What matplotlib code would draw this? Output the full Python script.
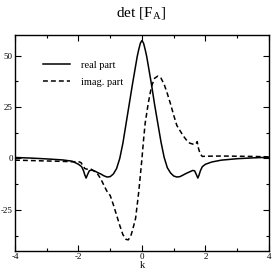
import matplotlib
matplotlib.use("Agg")
import matplotlib.pyplot as plt
from matplotlib.ticker import MultipleLocator

plt.rcParams['font.family'] = ['Liberation Serif', 'DejaVu Serif']
plt.rcParams['mathtext.fontset'] = 'custom'
plt.rcParams['mathtext.rm'] = 'Liberation Serif'
plt.rcParams['mathtext.it'] = 'Liberation Serif:italic'

k_real = [-4.0, -3.5, -3.0, -2.5, -2.2, -2.0, -1.9, -1.84, -1.8, -1.76, -1.72, -1.66,
          -1.6, -1.5, -1.4, -1.3, -1.2, -1.1, -1.0, -0.9, -0.8, -0.7, -0.6, -0.5,
          -0.4, -0.3, -0.2, -0.15, -0.1, -0.05, 0.0, 0.05, 0.1, 0.15, 0.2, 0.3, 0.4, 0.5,
          0.6, 0.7, 0.8, 0.9, 1.0, 1.1, 1.2, 1.3, 1.4, 1.5, 1.6, 1.66, 1.72, 1.76,
          1.8, 1.84, 1.9, 2.0, 2.2, 2.5, 3.0, 3.5, 4.0]
real_part = [0.5, 0.2, -0.2, -0.7, -1.3, -2.8, -4.0, -6.0, -8.0, -9.5, -8.0, -6.0,
             -5.6, -6.0, -6.8, -7.5, -8.4, -9.0, -8.8, -7.5, -4.9, 0.0, 7.5, 17.0,
             26.5, 36.0, 45.0, 49.5, 53.0, 56.0, 57.3, 56.0, 53.0, 49.5, 45.0, 36.0, 26.0, 17.0,
             8.0, 0.5, -4.5, -7.0, -8.5, -9.0, -8.8, -8.0, -7.2, -6.5, -5.8, -6.0, -8.0, -9.5,
             -8.0, -6.0, -4.0, -2.8, -1.7, -0.8, -0.1, 0.3, 0.6]

k_imag = [-4.0, -3.5, -3.0, -2.5, -2.2, -2.0, -1.92, -1.86, -1.8, -1.7, -1.6, -1.5,
          -1.4, -1.3, -1.2, -1.1, -1.0, -0.9, -0.8, -0.7, -0.6, -0.5, -0.43, -0.35,
          -0.3, -0.2, -0.1, 0.0, 0.05, 0.1, 0.2, 0.3, 0.4, 0.5, 0.6, 0.7, 0.8, 0.9,
          1.0, 1.1, 1.2, 1.3, 1.4, 1.5, 1.6, 1.7, 1.74, 1.78, 1.83, 1.9, 2.0, 2.5,
          3.0, 3.5, 4.0]
imag_part = [-0.8, -1.0, -1.2, -1.4, -1.6, -1.5, -2.0, -3.5, -4.9, -5.3, -5.2, -6.2,
             -7.5, -9.8, -13.0, -16.0, -18.0, -22.5, -27.5, -32.5, -37.0, -39.3, -39.5, -37.5,
             -35.0, -29.0, -16.0, 0.0, 9.0, 17.0, 27.0, 35.0, 39.0, 40.0, 39.0, 36.0, 31.5, 26.5,
             21.0, 16.0, 13.5, 11.0, 9.0, 7.5, 7.0, 7.0, 8.2, 5.0, 2.4, 1.0, 1.1, 1.2,
             1.1, 1.0, 0.8]

fig = plt.figure(figsize=(2.73, 2.73), dpi=100)
ax = fig.add_axes([0.055, 0.08, 0.93, 0.792])

ax.plot(k_real, real_part, color='black', lw=1.1, label='real part')
ax.plot(k_imag, imag_part, color='black', lw=1.1, linestyle=(0, (3.2, 2.0)), label='imag. part')

ax.set_xlim(-4, 4)
ax.set_ylim(-45, 60)
ax.xaxis.set_major_locator(MultipleLocator(2))
ax.xaxis.set_minor_locator(MultipleLocator(1))
ax.yaxis.set_major_locator(MultipleLocator(25))
ax.yaxis.set_minor_locator(MultipleLocator(12.5))
ax.tick_params(which='both', direction='in', top=True, right=True, labelsize=6.5, width=0.8)
ax.tick_params(which='major', length=4.5, pad=1.5)
ax.tick_params(which='minor', length=2.5)
ax.yaxis.set_major_formatter(matplotlib.ticker.FuncFormatter(lambda v, p: f"{v:g}"))
ax.xaxis.set_major_formatter(matplotlib.ticker.FuncFormatter(lambda v, p: f"{v:g}"))
for s in ax.spines.values():
    s.set_linewidth(1.0)

ax.set_xlabel('k', fontsize=7.5, labelpad=0)
fig.text(0.515, 0.953, r'det [F$_{\mathrm{A}}$]', ha='center', va='center', fontsize=11)

leg = ax.legend(loc='upper left', bbox_to_anchor=(0.095, 0.9), frameon=False, fontsize=7.5,
                handlelength=2.6, handletextpad=1.0, labelspacing=0.75, borderaxespad=0)

fig.savefig('out.png', dpi=100)
